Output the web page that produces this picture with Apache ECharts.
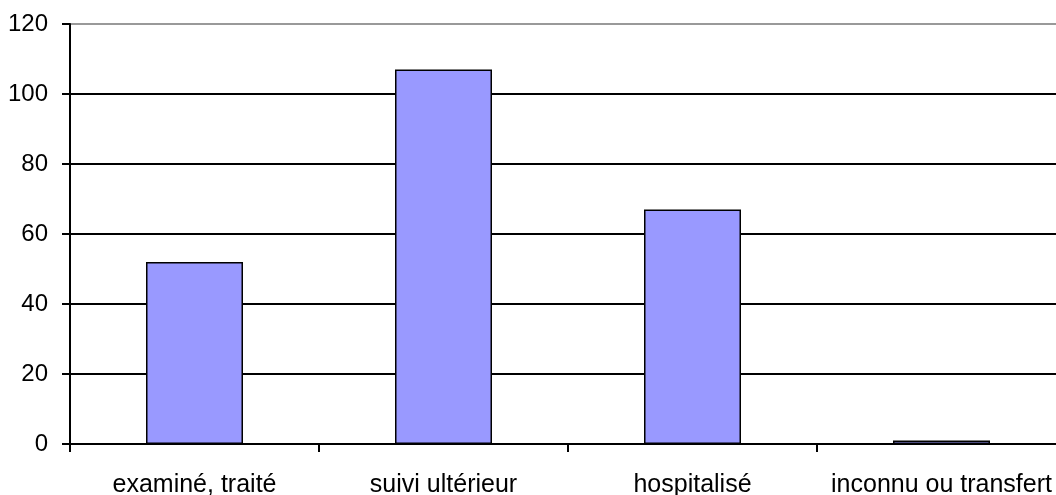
<!DOCTYPE html>
<html>
<head>
<meta charset="utf-8">
<script src="https://cdn.jsdelivr.net/npm/echarts@6/dist/echarts.min.js"></script>
<style>
html,body{margin:0;padding:0;background:#fff;}
#c{width:1056px;height:495px;}
</style>
</head>
<body>
<div id="c"></div>
<script>
const categories = ['examiné, traité', 'suivi ultérieur', 'hospitalisé', 'inconnu ou transfert'];
const values = [52, 107, 67, 1];
const yTicks = [0, 20, 40, 60, 80, 100, 120];

const chart = echarts.init(document.getElementById('c'), null, {renderer: 'canvas'});
const font = 'Liberation Sans';
chart.setOption({
  animation: false,
  backgroundColor: '#fff',
  grid: {left: 70, top: 24, width: 996, height: 420, containLabel: false, outerBoundsMode: 'none'},
  xAxis: {
    type: 'category',
    data: categories,
    boundaryGap: true,
    axisLine: {show: true, lineStyle: {color: '#000', width: 2}},
    axisTick: {show: true, alignWithLabel: false, length: 8, inside: false, lineStyle: {color: '#000', width: 2}},
    axisLabel: {color: '#000', fontFamily: font, fontSize: 25, margin: 29, interval: 0}
  },
  yAxis: {
    type: 'value',
    min: yTicks[0],
    max: yTicks[yTicks.length - 1],
    interval: 20,
    axisLine: {show: true, lineStyle: {color: '#000', width: 2}},
    axisTick: {show: true, length: 8, lineStyle: {color: '#000', width: 2}},
    axisLabel: {color: '#000', fontFamily: font, fontSize: 24, margin: 22},
    splitLine: {show: true, lineStyle: {color: ['#000', '#000', '#000', '#000', '#000', '#000', '#999'], width: 2}}
  },
  series: [{
    type: 'bar',
    data: values,
    barWidth: 97,
    itemStyle: {color: '#9999FF', borderColor: '#000', borderWidth: 1.5}
  }]
});
</script>
</body>
</html>
